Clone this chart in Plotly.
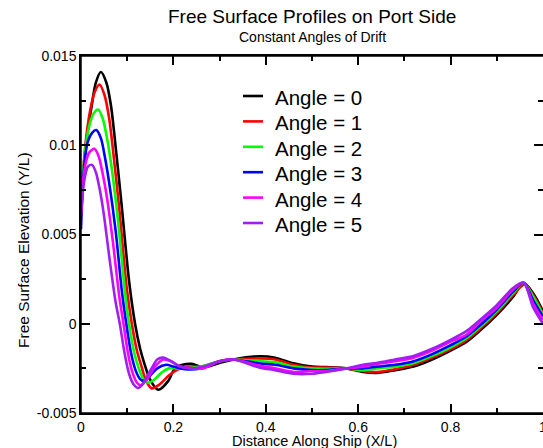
import plotly.graph_objects as go

# ---- data ----
series_names = ["Angle = 0", "Angle = 1", "Angle = 2", "Angle = 3", "Angle = 4", "Angle = 5"]
series_colors = ["#000000", "#FF0000", "#00FF00", "#0000FF", "#FF00FF", "#A020F0"]

x_a0 = [0, 0.006, 0.012, 0.023, 0.032, 0.043, 0.055, 0.065, 0.073, 0.087, 0.104, 0.117, 0.128, 0.138, 0.149, 0.167, 0.189, 0.203, 0.22, 0.2395, 0.265, 0.30, 0.33, 0.387, 0.42, 0.46, 0.50, 0.53, 0.575, 0.61, 0.64, 0.68, 0.72, 0.76, 0.80, 0.835, 0.863, 0.90, 0.935, 0.958, 0.979, 1.0]
y_a0 = [0.0060, 0.0086, 0.0103, 0.0122, 0.0135, 0.0141, 0.0135, 0.0122, 0.0104, 0.0069, 0.0024, 0.0000, -0.0014, -0.0023, -0.0031, -0.0037, -0.0032, -0.0025, -0.0023, -0.00225, -0.00245, -0.0022, -0.0020, -0.00182, -0.0019, -0.00222, -0.0024, -0.00243, -0.0025, -0.0027, -0.00276, -0.0026, -0.0024, -0.0020, -0.0015, -0.0010, -0.0004, 0.0005, 0.0015, 0.0023, 0.0017, 0.0007]

x_a1 = [0, 0.006, 0.012, 0.021, 0.030, 0.040, 0.051, 0.061, 0.069, 0.083, 0.099, 0.110, 0.121, 0.131, 0.141, 0.153, 0.170, 0.19, 0.207, 0.228, 0.26, 0.30, 0.33, 0.387, 0.42, 0.46, 0.50, 0.53, 0.575, 0.61, 0.64, 0.68, 0.72, 0.76, 0.80, 0.835, 0.863, 0.90, 0.935, 0.96, 0.979, 1.0]
y_a1 = [0.0068, 0.0090, 0.0106, 0.0121, 0.0130, 0.0134, 0.0128, 0.0115, 0.0098, 0.0064, 0.0020, 0.0000, -0.0015, -0.0024, -0.0032, -0.00362, -0.0034, -0.0029, -0.0026, -0.0024, -0.0024, -0.0021, -0.0020, -0.00195, -0.0020, -0.0023, -0.00245, -0.00245, -0.0025, -0.00265, -0.0027, -0.00255, -0.0023, -0.0019, -0.00142, -0.0009, -0.0003, 0.0006, 0.0016, 0.0022, 0.0016, 0.0006]

x_a2 = [0, 0.005, 0.011, 0.019, 0.028, 0.037, 0.047, 0.057, 0.066, 0.080, 0.095, 0.104, 0.115, 0.125, 0.135, 0.146, 0.16, 0.176, 0.19, 0.207, 0.225, 0.26, 0.30, 0.33, 0.387, 0.42, 0.46, 0.50, 0.53, 0.575, 0.61, 0.64, 0.68, 0.72, 0.76, 0.80, 0.835, 0.863, 0.90, 0.935, 0.958, 0.979, 1.0]
y_a2 = [0.0066, 0.0086, 0.0101, 0.0112, 0.0118, 0.0120, 0.0115, 0.0103, 0.0088, 0.0058, 0.0018, 0.0000, -0.0016, -0.0025, -0.0031, -0.0033, -0.0031, -0.0027, -0.0025, -0.0025, -0.0025, -0.0024, -0.0021, -0.0020, -0.0021, -0.00215, -0.0024, -0.0025, -0.00252, -0.0025, -0.0026, -0.0025, -0.0024, -0.0022, -0.0018, -0.00132, -0.0008, -0.0002, 0.0007, 0.0017, 0.0023, 0.0015, 0.0005]

x_a3 = [0, 0.004, 0.009, 0.016, 0.024, 0.033, 0.043, 0.052, 0.061, 0.075, 0.089, 0.098, 0.108, 0.118, 0.128, 0.137, 0.15, 0.165, 0.185, 0.20, 0.225, 0.26, 0.30, 0.33, 0.387, 0.42, 0.46, 0.50, 0.53, 0.575, 0.61, 0.64, 0.68, 0.72, 0.76, 0.80, 0.835, 0.863, 0.90, 0.935, 0.958, 0.979, 1.0]
y_a3 = [0.0053, 0.0078, 0.0094, 0.0103, 0.0107, 0.01085, 0.0104, 0.0093, 0.0079, 0.0052, 0.0017, 0.0000, -0.0016, -0.0026, -0.0031, -0.0032, -0.0029, -0.0025, -0.0023, -0.0024, -0.00255, -0.0025, -0.0021, -0.0020, -0.00223, -0.0023, -0.0025, -0.0026, -0.0026, -0.0025, -0.0025, -0.0024, -0.0023, -0.0021, -0.0017, -0.0012, -0.0007, -0.0001, 0.0008, 0.0018, 0.0023, 0.0013, 0.0004]

x_a4 = [0, 0.005, 0.011, 0.018, 0.029, 0.038, 0.047, 0.056, 0.069, 0.083, 0.092, 0.102, 0.111, 0.121, 0.130, 0.143, 0.16, 0.178, 0.195, 0.215, 0.24, 0.265, 0.30, 0.33, 0.387, 0.42, 0.46, 0.50, 0.53, 0.575, 0.61, 0.64, 0.68, 0.72, 0.76, 0.80, 0.835, 0.863, 0.90, 0.935, 0.958, 0.979, 1.0]
y_a4 = [0.0062, 0.0081, 0.0091, 0.0096, 0.0098, 0.0094, 0.0084, 0.0071, 0.0046, 0.0015, 0.0000, -0.0017, -0.0027, -0.0033, -0.00345, -0.0031, -0.0024, -0.0020, -0.0021, -0.0024, -0.0025, -0.0025, -0.0021, -0.0020, -0.00235, -0.0025, -0.0027, -0.00265, -0.00265, -0.0025, -0.0024, -0.00225, -0.0021, -0.0019, -0.0015, -0.0010, -0.0006, 0.0001, 0.0009, 0.0019, 0.0023, 0.0011, 0.0002]

x_a5 = [0, 0.004, 0.009, 0.015, 0.024, 0.032, 0.040, 0.049, 0.062, 0.075, 0.084, 0.094, 0.104, 0.114, 0.124, 0.133, 0.142, 0.155, 0.165, 0.178, 0.195, 0.215, 0.24, 0.265, 0.30, 0.33, 0.387, 0.42, 0.46, 0.50, 0.53, 0.575, 0.61, 0.64, 0.68, 0.72, 0.76, 0.80, 0.835, 0.863, 0.90, 0.935, 0.958, 0.979, 1.0]
y_a5 = [0.0060, 0.0074, 0.0083, 0.0088, 0.0089, 0.0085, 0.0076, 0.0062, 0.0036, 0.0012, 0.0000, -0.0016, -0.0028, -0.0034, -0.0036, -0.0034, -0.0030, -0.0024, -0.0020, -0.0019, -0.0021, -0.0024, -0.0025, -0.0024, -0.0021, -0.0020, -0.00246, -0.0026, -0.0028, -0.0028, -0.0027, -0.0025, -0.0023, -0.0022, -0.0020, -0.0018, -0.0014, -0.0009, -0.0004, 0.0002, 0.00104, 0.0020, 0.0023, 0.0009, 0.0000]

xs = [x_a0, x_a1, x_a2, x_a3, x_a4, x_a5]
ys = [y_a0, y_a1, y_a2, y_a3, y_a4, y_a5]

x_tickvals = [0, 0.2, 0.4, 0.6, 0.8, 1.0]
x_ticktext = ["0", "0.2", "0.4", "0.6", "0.8", "1"]
x_minor = [0.1, 0.3, 0.5, 0.7, 0.9]
y_tickvals = [-0.005, 0, 0.005, 0.01, 0.015]
y_ticktext = ["-0.005", "0", "0.005", "0.01", "0.015"]
y_minor = [-0.0025, 0.0025, 0.0075, 0.0125]

title_text = "Free Surface Profiles on Port Side"
subtitle_text = "Constant Angles of Drift"
x_title = "Distance Along Ship (X/L)"
y_title = "Free Surface Elevation (Y/L)"

FONT = "Liberation Sans, Arial, Helvetica, sans-serif"
W, H = 543, 448
ML, MR, MT, MB = 81, 0, 56, 35
PW, PH = W - ML - MR, H - MT - MB
AX_W = 1.5


def px_to_paper_x(px):
    return (px - ML) / PW


def py_to_paper_y(py):
    return 1 - (py - MT) / PH


fig = go.Figure()
for name, color, x, y in zip(series_names, series_colors, xs, ys):
    fig.add_trace(go.Scatter(x=x, y=y, mode="lines", name=name, showlegend=False,
                             line=dict(color=color, width=2.6, shape="spline", smoothing=0.8)))

# plot frame: top, left and bottom edges (right edge falls just outside the picture)
frame_shapes = [
    dict(type="line", xref="paper", yref="paper", x0=0, x1=1, y0=1, y1=1,
         line=dict(color="#000000", width=AX_W), layer="above"),
    dict(type="line", xref="paper", yref="paper", x0=0, x1=0, y0=0, y1=1,
         line=dict(color="#000000", width=AX_W), layer="above"),
    dict(type="line", xref="paper", yref="paper", x0=0, x1=1, y0=0, y1=0,
         line=dict(color="#000000", width=AX_W), layer="above"),
]

# manual legend (line samples + labels), placed like the reference
legend_shapes = []
legend_annots = []
row0, row_step = 96, 25.4
for i, (name, color) in enumerate(zip(series_names, series_colors)):
    py = row0 + i * row_step
    legend_shapes.append(dict(type="line", xref="paper", yref="paper",
                              x0=px_to_paper_x(243), x1=px_to_paper_x(263),
                              y0=py_to_paper_y(py), y1=py_to_paper_y(py),
                              line=dict(color=color, width=2.6)))
    legend_annots.append(dict(text=name, xref="paper", yref="paper",
                              x=px_to_paper_x(273), y=py_to_paper_y(py + 1.5),
                              xanchor="left", yanchor="middle", showarrow=False,
                              font=dict(family=FONT, size=20.5, color="#000000")))

tick_style = dict(showgrid=False, zeroline=False, showline=True, linecolor="#000000", linewidth=AX_W,
                  mirror="allticks", ticks="inside", ticklen=9, tickwidth=AX_W, tickcolor="#000000",
                  tickfont=dict(family=FONT, size=14, color="#000000"), automargin=False)
minor_style = dict(tickmode="array", ticks="inside", ticklen=5, tickwidth=AX_W,
                   tickcolor="#000000", showgrid=False)

fig.update_layout(
    template="none",
    width=W, height=H,
    margin=dict(l=ML, r=MR, t=MT, b=MB, pad=0),
    paper_bgcolor="white", plot_bgcolor="white",
    font=dict(family=FONT, color="#000000"),
    showlegend=False,
    xaxis=dict(range=[0, 1],
               tickmode="array", tickvals=x_tickvals, ticktext=x_ticktext, ticklabeloverflow="allow",
               minor=dict(tickvals=x_minor, **minor_style),
               title=dict(text=""),
               **tick_style),
    yaxis=dict(range=[-0.005, 0.015],
               tickmode="array", tickvals=y_tickvals, ticktext=y_ticktext,
               minor=dict(tickvals=y_minor, **minor_style),
               title=dict(text=""),
               **tick_style),
    shapes=frame_shapes + legend_shapes,
    annotations=[
        dict(text=title_text, x=0.5, y=py_to_paper_y(17), xref="paper", yref="paper", showarrow=False,
             font=dict(family=FONT, size=19, color="#000000"), yanchor="middle"),
        dict(text=subtitle_text, x=0.5, y=py_to_paper_y(37), xref="paper", yref="paper", showarrow=False,
             font=dict(family=FONT, size=14, color="#000000"), yanchor="middle"),
        dict(text=y_title, x=px_to_paper_x(24), y=py_to_paper_y(250), xref="paper", yref="paper",
             showarrow=False, textangle=-90, xanchor="center", yanchor="middle",
             font=dict(family=FONT, size=15.5, color="#000000")),
        dict(text=x_title, x=px_to_paper_x(314), y=py_to_paper_y(440.5), xref="paper", yref="paper",
             showarrow=False, xanchor="center", yanchor="middle",
             font=dict(family=FONT, size=14.5, color="#000000")),
    ] + legend_annots,
)

fig.write_html("out.html")
